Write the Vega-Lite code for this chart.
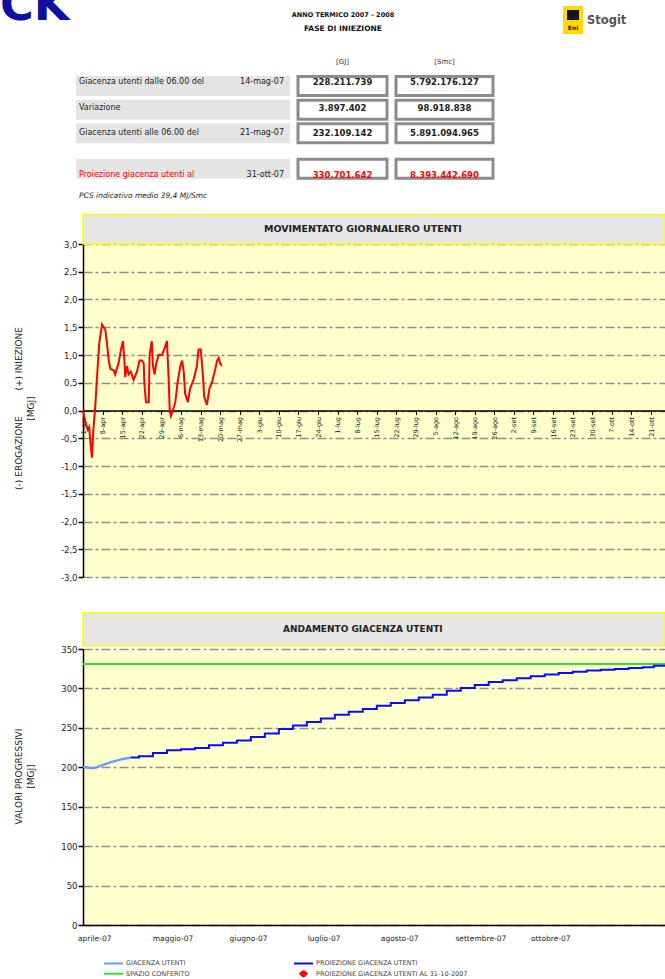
{
  "$schema": "https://vega.github.io/schema/vega-lite/v6.json",
  "padding": {"left": 0, "top": -17, "right": 0, "bottom": 0},
  "background": "#ffffff",
  "config": {
    "font": "DejaVu Sans",
    "locale": {"number": {"decimal": ",", "thousands": ".", "grouping": [3], "currency": ["€", ""], "minus": "-"}},
    "view": {"stroke": null},
    "axis": {"labelFont": "DejaVu Sans", "titleFont": "DejaVu Sans", "domainColor": "#000000", "domainWidth": 1.5, "tickColor": "#000000", "labelColor": "#222222", "titleColor": "#222222"},
    "axisX": {"grid": false, "title": null, "labelOverlap": false, "labelBound": false, "labelFlush": false},
    "axisY": {"grid": true, "gridColor": "#8f8f8f", "gridDash": [9, 3, 3, 3], "gridWidth": 1.3, "tickSize": 5, "tickWidth": 1.5, "labelFontSize": 8.5, "labelPadding": 1, "titleFontSize": 9, "titleFontWeight": "normal", "titleAngle": 270, "titleAlign": "center", "titleBaseline": "middle", "titleX": -65, "titleLineHeight": 12},
    "legend": {"labelFont": "DejaVu Sans"}
  },
  "datasets": {
    "tabella": [
      {"riga": 1, "voce": "Giacenza utenti dalle 06.00 del", "data_rif": "14-mag-07", "gj": 228211739, "smc": 5792176127},
      {"riga": 2, "voce": "Variazione", "data_rif": "", "gj": 3897402, "smc": 98918838},
      {"riga": 3, "voce": "Giacenza utenti alle 06.00 del", "data_rif": "21-mag-07", "gj": 232109142, "smc": 5891094965},
      {"riga": 4, "voce": "Proiezione giacenza utenti al", "data_rif": "31-ott-07", "gj": 330701642, "smc": 8393442690}
    ],
    "movimento": [
      {"data": "2007-04-01T00:00:00", "valore": 0},
      {"data": "2007-04-01T19:00:00", "valore": -0.2},
      {"data": "2007-04-02T17:00:00", "valore": -0.35},
      {"data": "2007-04-03T05:00:00", "valore": -0.3},
      {"data": "2007-04-03T17:00:00", "valore": -0.6},
      {"data": "2007-04-04T05:00:00", "valore": -0.85},
      {"data": "2007-04-04T17:00:00", "valore": -0.35},
      {"data": "2007-04-05T10:00:00", "valore": 0.1},
      {"data": "2007-04-06T00:00:00", "valore": 0.6},
      {"data": "2007-04-06T19:00:00", "valore": 1.2},
      {"data": "2007-04-07T19:00:00", "valore": 1.55},
      {"data": "2007-04-09T00:00:00", "valore": 1.45},
      {"data": "2007-04-09T14:00:00", "valore": 1.2},
      {"data": "2007-04-10T05:00:00", "valore": 0.9},
      {"data": "2007-04-10T19:00:00", "valore": 0.75},
      {"data": "2007-04-12T00:00:00", "valore": 0.72},
      {"data": "2007-04-12T12:00:00", "valore": 0.65},
      {"data": "2007-04-13T02:00:00", "valore": 0.75},
      {"data": "2007-04-13T17:00:00", "valore": 0.85},
      {"data": "2007-04-14T14:00:00", "valore": 1.1},
      {"data": "2007-04-15T07:00:00", "valore": 1.25},
      {"data": "2007-04-15T19:00:00", "valore": 0.9},
      {"data": "2007-04-16T02:00:00", "valore": 0.6},
      {"data": "2007-04-16T17:00:00", "valore": 0.8},
      {"data": "2007-04-17T07:00:00", "valore": 0.65},
      {"data": "2007-04-18T02:00:00", "valore": 0.7},
      {"data": "2007-04-19T02:00:00", "valore": 0.55},
      {"data": "2007-04-20T07:00:00", "valore": 0.7},
      {"data": "2007-04-21T05:00:00", "valore": 0.9},
      {"data": "2007-04-22T02:00:00", "valore": 0.9},
      {"data": "2007-04-22T17:00:00", "valore": 0.85},
      {"data": "2007-04-22T22:00:00", "valore": 0.5},
      {"data": "2007-04-23T12:00:00", "valore": 0.15},
      {"data": "2007-04-24T12:00:00", "valore": 0.15},
      {"data": "2007-04-24T19:00:00", "valore": 1.0},
      {"data": "2007-04-25T14:00:00", "valore": 1.25},
      {"data": "2007-04-26T00:00:00", "valore": 0.8},
      {"data": "2007-04-26T14:00:00", "valore": 0.65},
      {"data": "2007-04-27T05:00:00", "valore": 0.85},
      {"data": "2007-04-28T00:00:00", "valore": 1.0},
      {"data": "2007-04-29T05:00:00", "valore": 1.0},
      {"data": "2007-04-30T00:00:00", "valore": 1.1},
      {"data": "2007-05-01T00:00:00", "valore": 1.25},
      {"data": "2007-05-01T14:00:00", "valore": 0.6},
      {"data": "2007-05-02T00:00:00", "valore": 0.0},
      {"data": "2007-05-02T10:00:00", "valore": -0.1},
      {"data": "2007-05-03T10:00:00", "valore": 0.05},
      {"data": "2007-05-04T00:00:00", "valore": 0.15},
      {"data": "2007-05-04T19:00:00", "valore": 0.5},
      {"data": "2007-05-05T19:00:00", "valore": 0.8},
      {"data": "2007-05-06T10:00:00", "valore": 0.9},
      {"data": "2007-05-07T00:00:00", "valore": 0.7},
      {"data": "2007-05-07T12:00:00", "valore": 0.3},
      {"data": "2007-05-08T12:00:00", "valore": 0.15},
      {"data": "2007-05-09T07:00:00", "valore": 0.4},
      {"data": "2007-05-10T12:00:00", "valore": 0.55},
      {"data": "2007-05-11T17:00:00", "valore": 0.8},
      {"data": "2007-05-12T07:00:00", "valore": 1.1},
      {"data": "2007-05-13T02:00:00", "valore": 1.1},
      {"data": "2007-05-13T22:00:00", "valore": 0.6},
      {"data": "2007-05-14T07:00:00", "valore": 0.25},
      {"data": "2007-05-15T07:00:00", "valore": 0.1},
      {"data": "2007-05-16T05:00:00", "valore": 0.4},
      {"data": "2007-05-17T02:00:00", "valore": 0.5},
      {"data": "2007-05-18T07:00:00", "valore": 0.75},
      {"data": "2007-05-18T22:00:00", "valore": 0.9},
      {"data": "2007-05-19T12:00:00", "valore": 0.95},
      {"data": "2007-05-20T00:00:00", "valore": 0.85},
      {"data": "2007-05-20T14:00:00", "valore": 0.8}
    ],
    "giacenza": [
      {"serie": "SPAZIO CONFERITO", "data": "2007-04-01T00:00:00", "valore": 331},
      {"serie": "SPAZIO CONFERITO", "data": "2007-10-31T00:00:00", "valore": 331},
      {"serie": "GIACENZA UTENTI", "data": "2007-04-01T00:00:00", "valore": 200.5},
      {"serie": "GIACENZA UTENTI", "data": "2007-04-02T00:00:00", "valore": 200},
      {"serie": "GIACENZA UTENTI", "data": "2007-04-03T00:00:00", "valore": 199.5},
      {"serie": "GIACENZA UTENTI", "data": "2007-04-04T00:00:00", "valore": 199},
      {"serie": "GIACENZA UTENTI", "data": "2007-04-05T00:00:00", "valore": 199.2},
      {"serie": "GIACENZA UTENTI", "data": "2007-04-06T00:00:00", "valore": 200.2},
      {"serie": "GIACENZA UTENTI", "data": "2007-04-07T00:00:00", "valore": 201.5},
      {"serie": "GIACENZA UTENTI", "data": "2007-04-09T00:00:00", "valore": 204},
      {"serie": "GIACENZA UTENTI", "data": "2007-04-11T00:00:00", "valore": 206.5},
      {"serie": "GIACENZA UTENTI", "data": "2007-04-13T00:00:00", "valore": 208.5},
      {"serie": "GIACENZA UTENTI", "data": "2007-04-15T00:00:00", "valore": 210.3},
      {"serie": "GIACENZA UTENTI", "data": "2007-04-18T00:00:00", "valore": 212.5},
      {"serie": "PROIEZIONE GIACENZA UTENTI", "data": "2007-04-18T00:00:00", "valore": 212.5},
      {"serie": "PROIEZIONE GIACENZA UTENTI", "data": "2007-04-21T00:00:00", "valore": 214},
      {"serie": "PROIEZIONE GIACENZA UTENTI", "data": "2007-04-26T00:00:00", "valore": 218},
      {"serie": "PROIEZIONE GIACENZA UTENTI", "data": "2007-05-01T00:00:00", "valore": 221.5},
      {"serie": "PROIEZIONE GIACENZA UTENTI", "data": "2007-05-06T00:00:00", "valore": 223},
      {"serie": "PROIEZIONE GIACENZA UTENTI", "data": "2007-05-11T00:00:00", "valore": 224.5},
      {"serie": "PROIEZIONE GIACENZA UTENTI", "data": "2007-05-16T00:00:00", "valore": 228},
      {"serie": "PROIEZIONE GIACENZA UTENTI", "data": "2007-05-21T00:00:00", "valore": 231},
      {"serie": "PROIEZIONE GIACENZA UTENTI", "data": "2007-05-26T00:00:00", "valore": 234},
      {"serie": "PROIEZIONE GIACENZA UTENTI", "data": "2007-05-31T00:00:00", "valore": 238.5},
      {"serie": "PROIEZIONE GIACENZA UTENTI", "data": "2007-06-05T00:00:00", "valore": 243},
      {"serie": "PROIEZIONE GIACENZA UTENTI", "data": "2007-06-10T00:00:00", "valore": 248.5},
      {"serie": "PROIEZIONE GIACENZA UTENTI", "data": "2007-06-15T00:00:00", "valore": 253},
      {"serie": "PROIEZIONE GIACENZA UTENTI", "data": "2007-06-20T00:00:00", "valore": 257.5},
      {"serie": "PROIEZIONE GIACENZA UTENTI", "data": "2007-06-25T00:00:00", "valore": 262},
      {"serie": "PROIEZIONE GIACENZA UTENTI", "data": "2007-06-30T00:00:00", "valore": 266.5},
      {"serie": "PROIEZIONE GIACENZA UTENTI", "data": "2007-07-05T00:00:00", "valore": 270.5},
      {"serie": "PROIEZIONE GIACENZA UTENTI", "data": "2007-07-10T00:00:00", "valore": 274},
      {"serie": "PROIEZIONE GIACENZA UTENTI", "data": "2007-07-15T00:00:00", "valore": 278},
      {"serie": "PROIEZIONE GIACENZA UTENTI", "data": "2007-07-20T00:00:00", "valore": 281.5},
      {"serie": "PROIEZIONE GIACENZA UTENTI", "data": "2007-07-25T00:00:00", "valore": 285},
      {"serie": "PROIEZIONE GIACENZA UTENTI", "data": "2007-07-30T00:00:00", "valore": 288.5},
      {"serie": "PROIEZIONE GIACENZA UTENTI", "data": "2007-08-04T00:00:00", "valore": 292},
      {"serie": "PROIEZIONE GIACENZA UTENTI", "data": "2007-08-09T00:00:00", "valore": 297},
      {"serie": "PROIEZIONE GIACENZA UTENTI", "data": "2007-08-14T00:00:00", "valore": 300.5},
      {"serie": "PROIEZIONE GIACENZA UTENTI", "data": "2007-08-19T00:00:00", "valore": 304.5},
      {"serie": "PROIEZIONE GIACENZA UTENTI", "data": "2007-08-24T00:00:00", "valore": 308},
      {"serie": "PROIEZIONE GIACENZA UTENTI", "data": "2007-08-29T00:00:00", "valore": 310.5},
      {"serie": "PROIEZIONE GIACENZA UTENTI", "data": "2007-09-03T00:00:00", "valore": 313},
      {"serie": "PROIEZIONE GIACENZA UTENTI", "data": "2007-09-08T00:00:00", "valore": 315.5},
      {"serie": "PROIEZIONE GIACENZA UTENTI", "data": "2007-09-13T00:00:00", "valore": 317.8},
      {"serie": "PROIEZIONE GIACENZA UTENTI", "data": "2007-09-18T00:00:00", "valore": 319.7},
      {"serie": "PROIEZIONE GIACENZA UTENTI", "data": "2007-09-23T00:00:00", "valore": 321},
      {"serie": "PROIEZIONE GIACENZA UTENTI", "data": "2007-09-28T00:00:00", "valore": 322.7},
      {"serie": "PROIEZIONE GIACENZA UTENTI", "data": "2007-10-03T00:00:00", "valore": 323.8},
      {"serie": "PROIEZIONE GIACENZA UTENTI", "data": "2007-10-08T00:00:00", "valore": 324.5},
      {"serie": "PROIEZIONE GIACENZA UTENTI", "data": "2007-10-13T00:00:00", "valore": 326},
      {"serie": "PROIEZIONE GIACENZA UTENTI", "data": "2007-10-18T00:00:00", "valore": 327},
      {"serie": "PROIEZIONE GIACENZA UTENTI", "data": "2007-10-22T00:00:00", "valore": 328.7},
      {"serie": "PROIEZIONE GIACENZA UTENTI", "data": "2007-10-31T00:00:00", "valore": 330.7},
      {"serie": "PROIEZIONE GIACENZA UTENTI AL 31-10-2007", "data": "2007-10-31T00:00:00", "valore": 330.7}
    ]
  },
  "spacing": 8,
  "vconcat": [
    {
      "width": 582,
      "height": 205,
      "resolve": {"scale": {"y": "independent"}},
      "layer": [
        {
          "data": {"values": [{}]},
          "mark": {"type": "text", "text": "CK", "fontSize": 46, "fontWeight": "bold", "color": "#0f0fa0", "align": "left", "baseline": "alphabetic"},
          "encoding": {
            "x": {"datum": 0, "type": "quantitative", "scale": {"domain": [0, 665], "range": [-83, 582], "nice": false, "zero": false}, "axis": null},
            "y": {"datum": 20, "type": "quantitative", "scale": {"domain": [0, 205], "range": [0, 205], "nice": false, "zero": false}, "axis": null}
          }
        },
        {
          "data": {"values": [{}]},
          "mark": {"type": "text", "text": "ANNO TERMICO 2007 - 2008", "fontSize": 6.5, "fontWeight": "bold", "color": "#111111", "align": "center", "baseline": "middle"},
          "encoding": {
            "x": {"datum": 343, "type": "quantitative", "scale": {"domain": [0, 665], "range": [-83, 582], "nice": false, "zero": false}, "axis": null},
            "y": {"datum": 15, "type": "quantitative", "scale": {"domain": [0, 205], "range": [0, 205], "nice": false, "zero": false}, "axis": null}
          }
        },
        {
          "data": {"values": [{}]},
          "mark": {"type": "text", "text": "FASE DI INIEZIONE", "fontSize": 7.5, "fontWeight": "bold", "letterSpacing": 0.8, "color": "#111111", "align": "center", "baseline": "middle"},
          "encoding": {
            "x": {"datum": 343, "type": "quantitative", "scale": {"domain": [0, 665], "range": [-83, 582], "nice": false, "zero": false}, "axis": null},
            "y": {"datum": 29, "type": "quantitative", "scale": {"domain": [0, 205], "range": [0, 205], "nice": false, "zero": false}, "axis": null}
          }
        },
        {
          "data": {"values": [{}]},
          "mark": {"type": "rect", "color": "#ffd800"},
          "encoding": {
            "x": {"datum": 563, "type": "quantitative", "scale": {"domain": [0, 665], "range": [-83, 582], "nice": false, "zero": false}, "axis": null},
            "x2": {"datum": 583},
            "y": {"datum": 6, "type": "quantitative", "scale": {"domain": [0, 205], "range": [0, 205], "nice": false, "zero": false}, "axis": null},
            "y2": {"datum": 34}
          }
        },
        {
          "data": {"values": [{}]},
          "mark": {"type": "rect", "color": "#151515"},
          "encoding": {
            "x": {"datum": 567, "type": "quantitative", "scale": {"domain": [0, 665], "range": [-83, 582], "nice": false, "zero": false}, "axis": null},
            "x2": {"datum": 579},
            "y": {"datum": 10, "type": "quantitative", "scale": {"domain": [0, 205], "range": [0, 205], "nice": false, "zero": false}, "axis": null},
            "y2": {"datum": 20}
          }
        },
        {
          "data": {"values": [{}]},
          "mark": {"type": "text", "text": "Eni", "fontSize": 6, "fontWeight": "bold", "color": "#151515", "align": "center", "baseline": "middle"},
          "encoding": {
            "x": {"datum": 573, "type": "quantitative", "scale": {"domain": [0, 665], "range": [-83, 582], "nice": false, "zero": false}, "axis": null},
            "y": {"datum": 28, "type": "quantitative", "scale": {"domain": [0, 205], "range": [0, 205], "nice": false, "zero": false}, "axis": null}
          }
        },
        {
          "data": {"values": [{}]},
          "mark": {"type": "text", "text": "Stogit", "fontSize": 11.5, "fontWeight": "bold", "color": "#555555", "align": "left", "baseline": "middle"},
          "encoding": {
            "x": {"datum": 587, "type": "quantitative", "scale": {"domain": [0, 665], "range": [-83, 582], "nice": false, "zero": false}, "axis": null},
            "y": {"datum": 21, "type": "quantitative", "scale": {"domain": [0, 205], "range": [0, 205], "nice": false, "zero": false}, "axis": null}
          }
        },
        {
          "data": {"values": [{}]},
          "mark": {"type": "text", "text": "[GJ]", "fontSize": 7, "color": "#333333", "align": "center", "baseline": "middle"},
          "encoding": {
            "x": {"datum": 342.5, "type": "quantitative", "scale": {"domain": [0, 665], "range": [-83, 582], "nice": false, "zero": false}, "axis": null},
            "y": {"datum": 62, "type": "quantitative", "scale": {"domain": [0, 205], "range": [0, 205], "nice": false, "zero": false}, "axis": null}
          }
        },
        {
          "data": {"values": [{}]},
          "mark": {"type": "text", "text": "[Smc]", "fontSize": 7, "color": "#333333", "align": "center", "baseline": "middle"},
          "encoding": {
            "x": {"datum": 444.5, "type": "quantitative", "scale": {"domain": [0, 665], "range": [-83, 582], "nice": false, "zero": false}, "axis": null},
            "y": {"datum": 62, "type": "quantitative", "scale": {"domain": [0, 205], "range": [0, 205], "nice": false, "zero": false}, "axis": null}
          }
        },
        {
          "data": {"values": [{}]},
          "mark": {"type": "text", "text": "PCS indicativo medio 39,4 MJ/Smc", "fontSize": 7.5, "fontStyle": "italic", "color": "#222222", "align": "left", "baseline": "middle"},
          "encoding": {
            "x": {"datum": 79, "type": "quantitative", "scale": {"domain": [0, 665], "range": [-83, 582], "nice": false, "zero": false}, "axis": null},
            "y": {"datum": 196, "type": "quantitative", "scale": {"domain": [0, 205], "range": [0, 205], "nice": false, "zero": false}, "axis": null}
          }
        },
        {
          "data": {"name": "tabella"},
          "mark": {"type": "bar", "orient": "horizontal", "size": 20, "color": "#e4e4e4"},
          "encoding": {
            "x": {"datum": 76, "type": "quantitative", "scale": {"domain": [0, 665], "range": [-83, 582], "nice": false, "zero": false}, "axis": null},
            "x2": {"datum": 290},
            "y": {"field": "riga", "type": "quantitative", "scale": {"domain": [1, 3, 4], "range": [81.7, 133.3, 175], "nice": false, "zero": false}, "axis": null}
          }
        },
        {
          "data": {"name": "tabella"},
          "mark": {"type": "bar", "orient": "horizontal", "size": 19, "fill": "#ffffff", "stroke": "#8c8c8c", "strokeWidth": 3},
          "encoding": {
            "x": {"datum": 298, "type": "quantitative", "scale": {"domain": [0, 665], "range": [-83, 582], "nice": false, "zero": false}, "axis": null},
            "x2": {"datum": 387},
            "y": {"field": "riga", "type": "quantitative", "scale": {"domain": [1, 3, 4], "range": [81.7, 133.3, 175], "nice": false, "zero": false}, "axis": null}
          }
        },
        {
          "data": {"name": "tabella"},
          "mark": {"type": "bar", "orient": "horizontal", "size": 19, "fill": "#ffffff", "stroke": "#8c8c8c", "strokeWidth": 3},
          "encoding": {
            "x": {"datum": 396, "type": "quantitative", "scale": {"domain": [0, 665], "range": [-83, 582], "nice": false, "zero": false}, "axis": null},
            "x2": {"datum": 493},
            "y": {"field": "riga", "type": "quantitative", "scale": {"domain": [1, 3, 4], "range": [81.7, 133.3, 175], "nice": false, "zero": false}, "axis": null}
          }
        },
        {
          "data": {"name": "tabella"},
          "mark": {"type": "text", "fontSize": 8, "align": "left", "baseline": "middle"},
          "encoding": {
            "x": {"datum": 79, "type": "quantitative", "scale": {"domain": [0, 665], "range": [-83, 582], "nice": false, "zero": false}, "axis": null},
            "y": {"field": "riga", "type": "quantitative", "scale": {"domain": [1, 3, 4], "range": [81.7, 133.3, 175], "nice": false, "zero": false}, "axis": null},
            "text": {"field": "voce", "type": "nominal"},
            "color": {"condition": {"test": "datum.riga === 4", "value": "#ff0000"}, "value": "#222222"}
          }
        },
        {
          "data": {"name": "tabella"},
          "mark": {"type": "text", "fontSize": 8, "align": "right", "baseline": "middle", "color": "#222222"},
          "encoding": {
            "x": {"datum": 284, "type": "quantitative", "scale": {"domain": [0, 665], "range": [-83, 582], "nice": false, "zero": false}, "axis": null},
            "y": {"field": "riga", "type": "quantitative", "scale": {"domain": [1, 3, 4], "range": [81.7, 133.3, 175], "nice": false, "zero": false}, "axis": null},
            "text": {"field": "data_rif", "type": "nominal"}
          }
        },
        {
          "data": {"name": "tabella"},
          "mark": {"type": "text", "fontSize": 8.5, "fontWeight": "bold", "align": "center", "baseline": "middle"},
          "encoding": {
            "x": {"datum": 342.5, "type": "quantitative", "scale": {"domain": [0, 665], "range": [-83, 582], "nice": false, "zero": false}, "axis": null},
            "y": {"field": "riga", "type": "quantitative", "scale": {"domain": [1, 3, 4], "range": [81.7, 133.3, 175], "nice": false, "zero": false}, "axis": null},
            "text": {"field": "gj", "type": "quantitative", "format": ",d"},
            "color": {"condition": {"test": "datum.riga === 4", "value": "#ff0000"}, "value": "#222222"}
          }
        },
        {
          "data": {"name": "tabella"},
          "mark": {"type": "text", "fontSize": 8.5, "fontWeight": "bold", "align": "center", "baseline": "middle"},
          "encoding": {
            "x": {"datum": 444.5, "type": "quantitative", "scale": {"domain": [0, 665], "range": [-83, 582], "nice": false, "zero": false}, "axis": null},
            "y": {"field": "riga", "type": "quantitative", "scale": {"domain": [1, 3, 4], "range": [81.7, 133.3, 175], "nice": false, "zero": false}, "axis": null},
            "text": {"field": "smc", "type": "quantitative", "format": ",d"},
            "color": {"condition": {"test": "datum.riga === 4", "value": "#ff0000"}, "value": "#222222"}
          }
        }
      ]
    },
    {
      "spacing": 29,
      "vconcat": [
        {
          "width": 582,
          "height": 333,
          "view": {"fill": "#ffffcc", "stroke": null},
          "layer": [
            {
              "data": {"name": "movimento"},
              "mark": {"type": "line", "color": "#ff0000", "strokeWidth": 2},
              "encoding": {
                "x": {
                  "field": "data", "type": "temporal",
                  "scale": {"domain": [{"year": 2007, "month": 4, "date": 1}, {"year": 2007, "month": 10, "date": 26}], "nice": false},
                  "axis": {"orient": "bottom", "offset": -166.5, "tickCount": {"interval": "week", "step": 1}, "labelAngle": -90, "labelFontSize": 6.5, "labelPadding": 2, "tickSize": 4, "tickWidth": 1, "labelExpr": "date(datum.value) + '-' + ['gen','feb','mar','apr','mag','giu','lug','ago','set','ott','nov','dic'][month(datum.value)]"}
                },
                "y": {
                  "field": "valore", "type": "quantitative",
                  "scale": {"domain": [-3, 3], "nice": false, "zero": false},
                  "axis": {"values": [-3, -2.5, -2, -1.5, -1, -0.5, 0, 0.5, 1, 1.5, 2, 2.5, 3], "format": ".1f", "title": ["(-) EROGAZIONE\u00a0\u00a0\u00a0\u00a0\u00a0\u00a0\u00a0\u00a0\u00a0(+) INIEZIONE", "[MGJ]"], "titleY": 164}
                }
              }
            },
            {
              "data": {"values": [{}]},
              "mark": {"type": "rect", "fill": "#e6e6e6", "stroke": "#ffff00", "strokeWidth": 1.5},
              "encoding": {
                "x": {
                  "datum": {"year": 2007, "month": 4, "date": 1}, "type": "temporal",
                  "scale": {"domain": [{"year": 2007, "month": 4, "date": 1}, {"year": 2007, "month": 10, "date": 26}], "nice": false},
                  "axis": {"orient": "bottom", "offset": -166.5, "tickCount": {"interval": "week", "step": 1}, "labelAngle": -90, "labelFontSize": 6.5, "labelPadding": 2, "tickSize": 4, "tickWidth": 1, "labelExpr": "date(datum.value) + '-' + ['gen','feb','mar','apr','mag','giu','lug','ago','set','ott','nov','dic'][month(datum.value)]"}
                },
                "x2": {"datum": {"year": 2007, "month": 10, "date": 26}},
                "y": {
                  "datum": 3, "type": "quantitative",
                  "scale": {"domain": [-3, 3], "nice": false, "zero": false},
                  "axis": {"values": [-3, -2.5, -2, -1.5, -1, -0.5, 0, 0.5, 1, 1.5, 2, 2.5, 3], "format": ".1f", "title": ["(-) EROGAZIONE\u00a0\u00a0\u00a0\u00a0\u00a0\u00a0\u00a0\u00a0\u00a0(+) INIEZIONE", "[MGJ]"], "titleY": 164}
                },
                "y2": {"datum": 3.53}
              }
            },
            {
              "data": {"values": [{}]},
              "mark": {"type": "text", "text": "MOVIMENTATO GIORNALIERO UTENTI", "fontSize": 9.5, "fontWeight": "bold", "color": "#222222", "align": "center", "baseline": "middle"},
              "encoding": {
                "x": {
                  "datum": {"year": 2007, "month": 7, "date": 10}, "type": "temporal",
                  "scale": {"domain": [{"year": 2007, "month": 4, "date": 1}, {"year": 2007, "month": 10, "date": 26}], "nice": false},
                  "axis": {"orient": "bottom", "offset": -166.5, "tickCount": {"interval": "week", "step": 1}, "labelAngle": -90, "labelFontSize": 6.5, "labelPadding": 2, "tickSize": 4, "tickWidth": 1, "labelExpr": "date(datum.value) + '-' + ['gen','feb','mar','apr','mag','giu','lug','ago','set','ott','nov','dic'][month(datum.value)]"}
                },
                "y": {
                  "datum": 3.265, "type": "quantitative",
                  "scale": {"domain": [-3, 3], "nice": false, "zero": false},
                  "axis": {"values": [-3, -2.5, -2, -1.5, -1, -0.5, 0, 0.5, 1, 1.5, 2, 2.5, 3], "format": ".1f", "title": ["(-) EROGAZIONE\u00a0\u00a0\u00a0\u00a0\u00a0\u00a0\u00a0\u00a0\u00a0(+) INIEZIONE", "[MGJ]"], "titleY": 164}
                }
              }
            }
          ]
        },
        {
          "width": 582,
          "height": 276,
          "view": {"fill": "#ffffcc", "stroke": null},
          "layer": [
            {
              "data": {"name": "giacenza"},
              "transform": [{"filter": "datum.serie === 'SPAZIO CONFERITO'"}],
              "mark": {"type": "line", "strokeWidth": 2, "clip": true},
              "encoding": {
                "x": {
                  "field": "data", "type": "temporal",
                  "scale": {"domain": [{"year": 2007, "month": 4, "date": 1}, {"year": 2007, "month": 10, "date": 26}], "nice": false},
                  "axis": {"values": [{"year": 2007, "month": 4, "date": 5}, {"year": 2007, "month": 5, "date": 3}, {"year": 2007, "month": 5, "date": 30}, {"year": 2007, "month": 6, "date": 26}, {"year": 2007, "month": 7, "date": 23}, {"year": 2007, "month": 8, "date": 21}, {"year": 2007, "month": 9, "date": 15}], "labelExpr": "['gennaio','febbraio','marzo','aprile','maggio','giugno','luglio','agosto','settembre','ottobre','novembre','dicembre'][month(time(datum.value) + 1555200000)] + '-07'", "labelAngle": 0, "labelFontSize": 7.5, "labelPadding": 9, "ticks": false, "tickSize": 0}
                },
                "y": {
                  "field": "valore", "type": "quantitative",
                  "scale": {"domain": [0, 350], "nice": false, "zero": false},
                  "axis": {"values": [0, 50, 100, 150, 200, 250, 300, 350], "format": "d", "title": ["VALORI PROGRESSIVI", "[MGJ]"], "titleY": 127}
                },
                "color": {
                  "field": "serie", "type": "nominal",
                  "scale": {"domain": ["GIACENZA UTENTI", "SPAZIO CONFERITO", "PROIEZIONE GIACENZA UTENTI", "PROIEZIONE GIACENZA UTENTI AL 31-10-2007"], "range": ["#6b9bff", "#33e033", "#0a0aff", "#ff0000"]},
                  "legend": {
                    "title": null, "orient": "none", "legendX": 20, "legendY": 960, "columns": 2, "columnPadding": 103, "rowPadding": 3.5, "clipHeight": 6.5,
                    "symbolType": "stroke", "symbolSize": 361, "symbolStrokeWidth": 2,
                    "labelFontSize": 6.5, "labelColor": "#444444", "labelOffset": 2, "labelLimit": 300,
                    "encode": {"symbols": {"update": {
                      "shape": {"signal": "datum.value === 'PROIEZIONE GIACENZA UTENTI AL 31-10-2007' ? 'diamond' : 'stroke'"},
                      "size": {"signal": "datum.value === 'PROIEZIONE GIACENZA UTENTI AL 31-10-2007' ? 40 : 361"},
                      "fill": {"signal": "datum.value === 'PROIEZIONE GIACENZA UTENTI AL 31-10-2007' ? '#ff0000' : 'transparent'"}
                    }}}
                  }
                }
              }
            },
            {
              "data": {"name": "giacenza"},
              "transform": [{"filter": "datum.serie === 'GIACENZA UTENTI'"}],
              "mark": {"type": "line", "strokeWidth": 2.5, "clip": true},
              "encoding": {
                "x": {
                  "field": "data", "type": "temporal",
                  "scale": {"domain": [{"year": 2007, "month": 4, "date": 1}, {"year": 2007, "month": 10, "date": 26}], "nice": false},
                  "axis": {"values": [{"year": 2007, "month": 4, "date": 5}, {"year": 2007, "month": 5, "date": 3}, {"year": 2007, "month": 5, "date": 30}, {"year": 2007, "month": 6, "date": 26}, {"year": 2007, "month": 7, "date": 23}, {"year": 2007, "month": 8, "date": 21}, {"year": 2007, "month": 9, "date": 15}], "labelExpr": "['gennaio','febbraio','marzo','aprile','maggio','giugno','luglio','agosto','settembre','ottobre','novembre','dicembre'][month(time(datum.value) + 1555200000)] + '-07'", "labelAngle": 0, "labelFontSize": 7.5, "labelPadding": 9, "ticks": false, "tickSize": 0}
                },
                "y": {
                  "field": "valore", "type": "quantitative",
                  "scale": {"domain": [0, 350], "nice": false, "zero": false},
                  "axis": {"values": [0, 50, 100, 150, 200, 250, 300, 350], "format": "d", "title": ["VALORI PROGRESSIVI", "[MGJ]"], "titleY": 127}
                },
                "color": {"field": "serie", "type": "nominal", "scale": {"domain": ["GIACENZA UTENTI", "SPAZIO CONFERITO", "PROIEZIONE GIACENZA UTENTI", "PROIEZIONE GIACENZA UTENTI AL 31-10-2007"], "range": ["#6b9bff", "#33e033", "#0a0aff", "#ff0000"]}}
              }
            },
            {
              "data": {"name": "giacenza"},
              "transform": [{"filter": "datum.serie === 'PROIEZIONE GIACENZA UTENTI'"}],
              "mark": {"type": "line", "strokeWidth": 2, "interpolate": "step-after", "clip": true},
              "encoding": {
                "x": {
                  "field": "data", "type": "temporal",
                  "scale": {"domain": [{"year": 2007, "month": 4, "date": 1}, {"year": 2007, "month": 10, "date": 26}], "nice": false},
                  "axis": {"values": [{"year": 2007, "month": 4, "date": 5}, {"year": 2007, "month": 5, "date": 3}, {"year": 2007, "month": 5, "date": 30}, {"year": 2007, "month": 6, "date": 26}, {"year": 2007, "month": 7, "date": 23}, {"year": 2007, "month": 8, "date": 21}, {"year": 2007, "month": 9, "date": 15}], "labelExpr": "['gennaio','febbraio','marzo','aprile','maggio','giugno','luglio','agosto','settembre','ottobre','novembre','dicembre'][month(time(datum.value) + 1555200000)] + '-07'", "labelAngle": 0, "labelFontSize": 7.5, "labelPadding": 9, "ticks": false, "tickSize": 0}
                },
                "y": {
                  "field": "valore", "type": "quantitative",
                  "scale": {"domain": [0, 350], "nice": false, "zero": false},
                  "axis": {"values": [0, 50, 100, 150, 200, 250, 300, 350], "format": "d", "title": ["VALORI PROGRESSIVI", "[MGJ]"], "titleY": 127}
                },
                "color": {"field": "serie", "type": "nominal", "scale": {"domain": ["GIACENZA UTENTI", "SPAZIO CONFERITO", "PROIEZIONE GIACENZA UTENTI", "PROIEZIONE GIACENZA UTENTI AL 31-10-2007"], "range": ["#6b9bff", "#33e033", "#0a0aff", "#ff0000"]}}
              }
            },
            {
              "data": {"name": "giacenza"},
              "transform": [{"filter": "datum.serie === 'PROIEZIONE GIACENZA UTENTI AL 31-10-2007'"}],
              "mark": {"type": "point", "shape": "diamond", "filled": true, "size": 40, "clip": true},
              "encoding": {
                "x": {
                  "field": "data", "type": "temporal",
                  "scale": {"domain": [{"year": 2007, "month": 4, "date": 1}, {"year": 2007, "month": 10, "date": 26}], "nice": false},
                  "axis": {"values": [{"year": 2007, "month": 4, "date": 5}, {"year": 2007, "month": 5, "date": 3}, {"year": 2007, "month": 5, "date": 30}, {"year": 2007, "month": 6, "date": 26}, {"year": 2007, "month": 7, "date": 23}, {"year": 2007, "month": 8, "date": 21}, {"year": 2007, "month": 9, "date": 15}], "labelExpr": "['gennaio','febbraio','marzo','aprile','maggio','giugno','luglio','agosto','settembre','ottobre','novembre','dicembre'][month(time(datum.value) + 1555200000)] + '-07'", "labelAngle": 0, "labelFontSize": 7.5, "labelPadding": 9, "ticks": false, "tickSize": 0}
                },
                "y": {
                  "field": "valore", "type": "quantitative",
                  "scale": {"domain": [0, 350], "nice": false, "zero": false},
                  "axis": {"values": [0, 50, 100, 150, 200, 250, 300, 350], "format": "d", "title": ["VALORI PROGRESSIVI", "[MGJ]"], "titleY": 127}
                },
                "color": {"field": "serie", "type": "nominal", "scale": {"domain": ["GIACENZA UTENTI", "SPAZIO CONFERITO", "PROIEZIONE GIACENZA UTENTI", "PROIEZIONE GIACENZA UTENTI AL 31-10-2007"], "range": ["#6b9bff", "#33e033", "#0a0aff", "#ff0000"]}}
              }
            },
            {
              "data": {"values": [{}]},
              "mark": {"type": "rect", "fill": "#e6e6e6", "stroke": "#ffff00", "strokeWidth": 1.5},
              "encoding": {
                "x": {
                  "datum": {"year": 2007, "month": 4, "date": 1}, "type": "temporal",
                  "scale": {"domain": [{"year": 2007, "month": 4, "date": 1}, {"year": 2007, "month": 10, "date": 26}], "nice": false},
                  "axis": {"values": [{"year": 2007, "month": 4, "date": 5}, {"year": 2007, "month": 5, "date": 3}, {"year": 2007, "month": 5, "date": 30}, {"year": 2007, "month": 6, "date": 26}, {"year": 2007, "month": 7, "date": 23}, {"year": 2007, "month": 8, "date": 21}, {"year": 2007, "month": 9, "date": 15}], "labelExpr": "['gennaio','febbraio','marzo','aprile','maggio','giugno','luglio','agosto','settembre','ottobre','novembre','dicembre'][month(time(datum.value) + 1555200000)] + '-07'", "labelAngle": 0, "labelFontSize": 7.5, "labelPadding": 9, "ticks": false, "tickSize": 0}
                },
                "x2": {"datum": {"year": 2007, "month": 10, "date": 26}},
                "y": {
                  "datum": 354, "type": "quantitative",
                  "scale": {"domain": [0, 350], "nice": false, "zero": false},
                  "axis": {"values": [0, 50, 100, 150, 200, 250, 300, 350], "format": "d", "title": ["VALORI PROGRESSIVI", "[MGJ]"], "titleY": 127}
                },
                "y2": {"datum": 396}
              }
            },
            {
              "data": {"values": [{}]},
              "mark": {"type": "text", "text": "ANDAMENTO GIACENZA UTENTI", "fontSize": 9, "fontWeight": "bold", "color": "#222222", "align": "center", "baseline": "middle"},
              "encoding": {
                "x": {
                  "datum": {"year": 2007, "month": 7, "date": 10}, "type": "temporal",
                  "scale": {"domain": [{"year": 2007, "month": 4, "date": 1}, {"year": 2007, "month": 10, "date": 26}], "nice": false},
                  "axis": {"values": [{"year": 2007, "month": 4, "date": 5}, {"year": 2007, "month": 5, "date": 3}, {"year": 2007, "month": 5, "date": 30}, {"year": 2007, "month": 6, "date": 26}, {"year": 2007, "month": 7, "date": 23}, {"year": 2007, "month": 8, "date": 21}, {"year": 2007, "month": 9, "date": 15}], "labelExpr": "['gennaio','febbraio','marzo','aprile','maggio','giugno','luglio','agosto','settembre','ottobre','novembre','dicembre'][month(time(datum.value) + 1555200000)] + '-07'", "labelAngle": 0, "labelFontSize": 7.5, "labelPadding": 9, "ticks": false, "tickSize": 0}
                },
                "y": {
                  "datum": 375, "type": "quantitative",
                  "scale": {"domain": [0, 350], "nice": false, "zero": false},
                  "axis": {"values": [0, 50, 100, 150, 200, 250, 300, 350], "format": "d", "title": ["VALORI PROGRESSIVI", "[MGJ]"], "titleY": 127}
                }
              }
            }
          ]
        }
      ]
    }
  ]
}
